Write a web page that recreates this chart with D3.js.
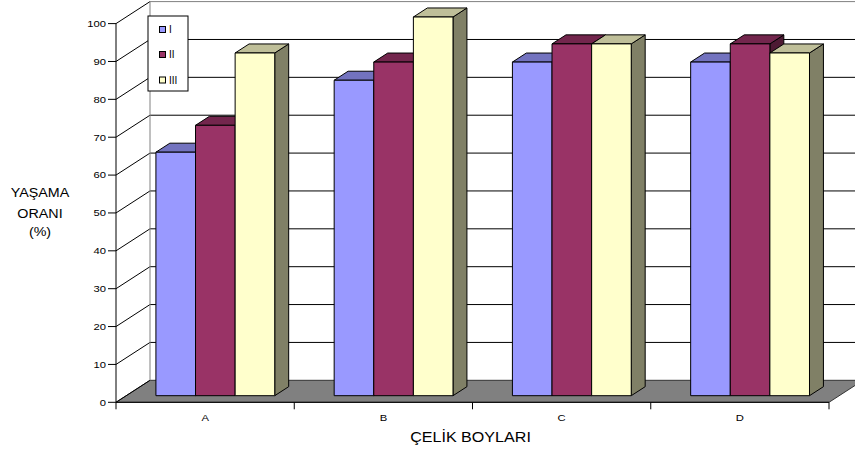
<!DOCTYPE html>
<html>
<head>
<meta charset="utf-8">
<script src="https://cdn.jsdelivr.net/npm/d3@7/dist/d3.min.js"></script>
<style>
  html, body { margin: 0; padding: 0; background: #fff; }
  svg { display: block; }
  text { font-family: Arial, "Liberation Sans", sans-serif; fill: #000; }
</style>
</head>
<body>
<svg id="chart" width="855" height="450"></svg>
<script>
// Survival rate (%) by steel length class, for three groups
const categories = ["A", "B", "C", "D"];
const seriesNames = ["I", "II", "III"];
const seriesI   = [64.3, 83.3, 88.1, 88.1];
const seriesII  = [71.4, 88.1, 92.9, 92.9];
const seriesIII = [90.5, 100, 92.9, 90.5];
const yTicks = [0, 10, 20, 30, 40, 50, 60, 70, 80, 90, 100];
const seriesColors = ["#9999FF", "#993366", "#FFFFCC"];

const seriesValues = [seriesI, seriesII, seriesIII];

const svg = d3.select("#chart");

// 3D frame: front plane of the floor/axis, with depth offset up-right
const DX = 34, DY = 22;
const x = d3.scaleBand().domain(categories).range([116, 829]);
const xs = d3.scaleBand().domain(seriesNames).range([0, x.bandwidth()])
  .paddingInner(0).paddingOuter(0.75);
const y = d3.scaleLinear().domain([0, 100]).range([402.3, 23.6]);

const P = (px, v, z) => [px + z * DX, y(v) - z * DY];
const poly = pts => "M" + pts.map(p => p.join(",")).join("L") + "Z";

// scaled text helper (horizontally widened glyphs)
function label(g, txt, tx, ty, size, sx, anchor) {
  return g.append("text")
    .attr("transform", `translate(${tx},${ty}) scale(${sx},1)`)
    .attr("text-anchor", anchor || "middle")
    .style("font-size", size + "px")
    .text(txt);
}

// Back wall
const x0 = x.range()[0], x1 = x.range()[1];
svg.append("path")
  .attr("d", poly([P(x0, 0, 1), P(x1, 0, 1), P(x1, 100, 1), P(x0, 100, 1)]))
  .attr("fill", "#fff").attr("stroke", "none");

// Floor
svg.append("path")
  .attr("d", poly([P(x0, 0, 0), P(x1, 0, 0), P(x1, 0, 1), P(x0, 0, 1)]))
  .attr("fill", "#808080").attr("stroke", "#333").attr("stroke-width", 1);

// Gridlines: left wall diagonals and back wall horizontals
const grid = svg.append("g").attr("fill", "none");
yTicks.forEach(v => {
  const a = P(x0, v, 0), b = P(x0, v, 1), c = P(x1, v, 1);
  grid.append("path").attr("d", `M${a}L${b}`).attr("stroke", "#000").attr("stroke-width", 1);
  if (v > 0) {
    grid.append("path").attr("d", `M${b}L${c}`)
      .attr("stroke", v === 100 ? "#808080" : "#000").attr("stroke-width", 1);
  }
});
// back wall left edge
grid.append("path").attr("d", `M${P(x0, 0, 1)}L${P(x0, 100, 1)}`)
  .attr("stroke", "#808080").attr("stroke-width", 1);

// Bars
const Z0 = 0.3, Z1 = 0.71;
const bars = svg.append("g").attr("stroke", "#000").attr("stroke-width", 1)
  .attr("stroke-linejoin", "miter");
categories.forEach((cat, ci) => {
  seriesNames.forEach((s, si) => {
    const v = seriesValues[si][ci];
    const bx0 = x(cat) + xs(s), bx1 = bx0 + xs.bandwidth();
    const base = d3.rgb(seriesColors[si]);
    const shade = k => d3.rgb(base.r * k, base.g * k, base.b * k).formatHex();
    const g = bars.append("g");
    g.append("path").attr("fill", shade(0.5))
      .attr("d", poly([P(bx1, 0, Z0), P(bx1, 0, Z1), P(bx1, v, Z1), P(bx1, v, Z0)]));
    g.append("path").attr("fill", shade(0.75))
      .attr("d", poly([P(bx0, v, Z0), P(bx1, v, Z0), P(bx1, v, Z1), P(bx0, v, Z1)]));
    g.append("path").attr("fill", seriesColors[si])
      .attr("d", poly([P(bx0, 0, Z0), P(bx1, 0, Z0), P(bx1, v, Z0), P(bx0, v, Z0)]));
  });
});

// Value axis (front left)
const axisG = svg.append("g");
axisG.append("line")
  .attr("x1", x0).attr("x2", x0).attr("y1", y(0)).attr("y2", y(100))
  .attr("stroke", "#000");
yTicks.forEach(v => {
  axisG.append("line").attr("x1", x0 - 8).attr("x2", x0)
    .attr("y1", y(v)).attr("y2", y(v)).attr("stroke", "#000");
  label(axisG, String(v), x0 - 10, y(v) + 3.3, 9, 1.25, "end");
});

// Category axis (floor front edge)
axisG.append("line")
  .attr("x1", x0).attr("x2", x1).attr("y1", y(0)).attr("y2", y(0))
  .attr("stroke", "#000");
const catEdges = categories.map(c => x(c)).concat([x1]);
catEdges.forEach(cx => {
  axisG.append("line").attr("x1", cx).attr("x2", cx)
    .attr("y1", y(0)).attr("y2", y(0) + 7).attr("stroke", "#000");
});
categories.forEach(c => {
  label(axisG, c, x(c) + x.bandwidth() / 2, 420.5, 9, 1.25);
});

// Axis titles
label(svg, "ÇELİK BOYLARI", 470.5, 441.5, 14, 1.15);
label(svg, "YAŞAMA", 40, 197, 13, 1.1);
label(svg, "ORANI", 40, 217.5, 13, 1.1);
label(svg, "(%)", 40, 236, 13, 1.1);

// Legend
const lg = svg.append("g");
lg.append("rect").attr("x", 148).attr("y", 16).attr("width", 40).attr("height", 75)
  .attr("fill", "#fff").attr("stroke", "#000").attr("stroke-width", 1);
const legendY = [29.5, 54.5, 80];
seriesNames.forEach((s, i) => {
  lg.append("rect").attr("x", 159.5).attr("y", legendY[i] - 3).attr("width", 6).attr("height", 6)
    .attr("fill", seriesColors[i]).attr("stroke", "#000").attr("stroke-width", 1);
  lg.append("text").attr("x", 169).attr("y", legendY[i] + 3.5)
    .style("font-size", "10px").text(s);
});
</script>
</body>
</html>
